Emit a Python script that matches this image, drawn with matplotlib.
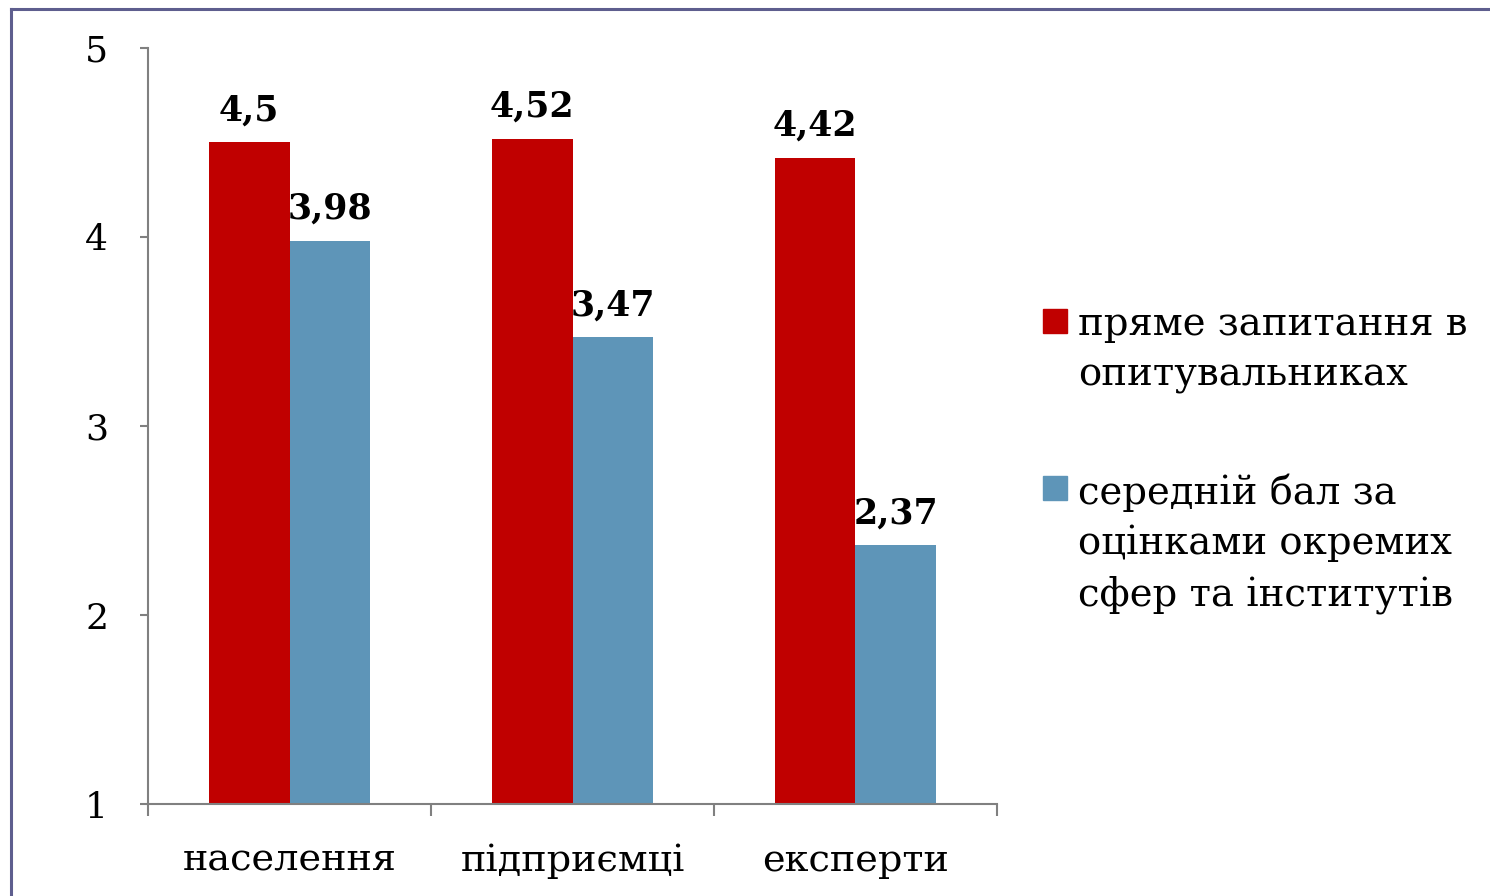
import matplotlib
matplotlib.use("Agg")
import matplotlib.pyplot as plt
from matplotlib.lines import Line2D
from matplotlib.patches import Rectangle
import numpy as np

plt.rcParams['font.family'] = ['DejaVu Serif']

# data
categories = ['населення', 'підприємці', 'експерти']
series_names = ['пряме запитання в\nопитувальниках',
                'середній бал за\nоцінками окремих\nсфер та інститутів']
direct_vals = [4.5, 4.52, 4.42]
avg_vals = [3.98, 3.47, 2.37]
colors = ['#C00000', '#5E95B8']

W, H = 1490, 896
fig = plt.figure(figsize=(W / 100, H / 100), dpi=100)
ax = fig.add_axes([148 / W, 1 - 804 / H, 849 / W, 756 / H])

x = np.arange(len(categories))
bw = 0.286
b1 = ax.bar(x - bw / 2, direct_vals, bw, bottom=0, color=colors[0], zorder=2)
b2 = ax.bar(x + bw / 2, avg_vals, bw, bottom=0, color=colors[1], zorder=2)

for bars, vals in [(b1, direct_vals), (b2, avg_vals)]:
    for r, v in zip(bars, vals):
        ax.annotate(str(v).replace('.', ','), (r.get_x() + r.get_width() / 2, v),
                    xytext=(0, 15), textcoords='offset pixels',
                    ha='center', va='bottom', fontsize=25, fontweight='bold')

ax.set_ylim(1, 5)
ax.set_xlim(-0.5, 2.5)
ax.set_yticks([1, 2, 3, 4, 5])
ax.set_yticklabels(['1', '2', '3', '4', '5'], fontsize=26)
ax.set_xticks(x)
ax.set_xticklabels(categories, fontsize=27.5)
ax.set_xticks([-0.5, 0.5, 1.5, 2.5], minor=True)
ax.tick_params(axis='x', which='major', length=0, pad=28)
ax.tick_params(axis='x', which='minor', length=8.6, width=1.5, color='#808080')
ax.tick_params(axis='y', length=5.8, width=1.5, color='#808080', pad=23)
for t in ax.get_yticklabels():
    t.set_horizontalalignment('right')

for s in ['top', 'right']:
    ax.spines[s].set_visible(False)
for s in ['left', 'bottom']:
    ax.spines[s].set_color('#808080')
    ax.spines[s].set_linewidth(1.5)

# legend drawn by hand
leg_y = [333, 500]
for c, name, y in zip(colors, series_names, leg_y):
    fig.add_artist(Rectangle((1043 / W, 1 - y / H), 24 / W, 24 / H,
                             transform=fig.transFigure, color=c))
    fig.text(1078 / W, 1 - (y - 27) / H, name, fontsize=27.8, va='top', ha='left',
             linespacing=1.45)

# slide frame
fc = '#5E5E8E'
fig.add_artist(Line2D([11 / W, 1], [1 - 9 / H, 1 - 9 / H], color=fc, lw=2.2,
                      transform=fig.transFigure))
fig.add_artist(Line2D([11 / W, 11 / W], [0, 1 - 9 / H], color=fc, lw=2.2,
                      transform=fig.transFigure))

fig.savefig('out.png', dpi=100)
